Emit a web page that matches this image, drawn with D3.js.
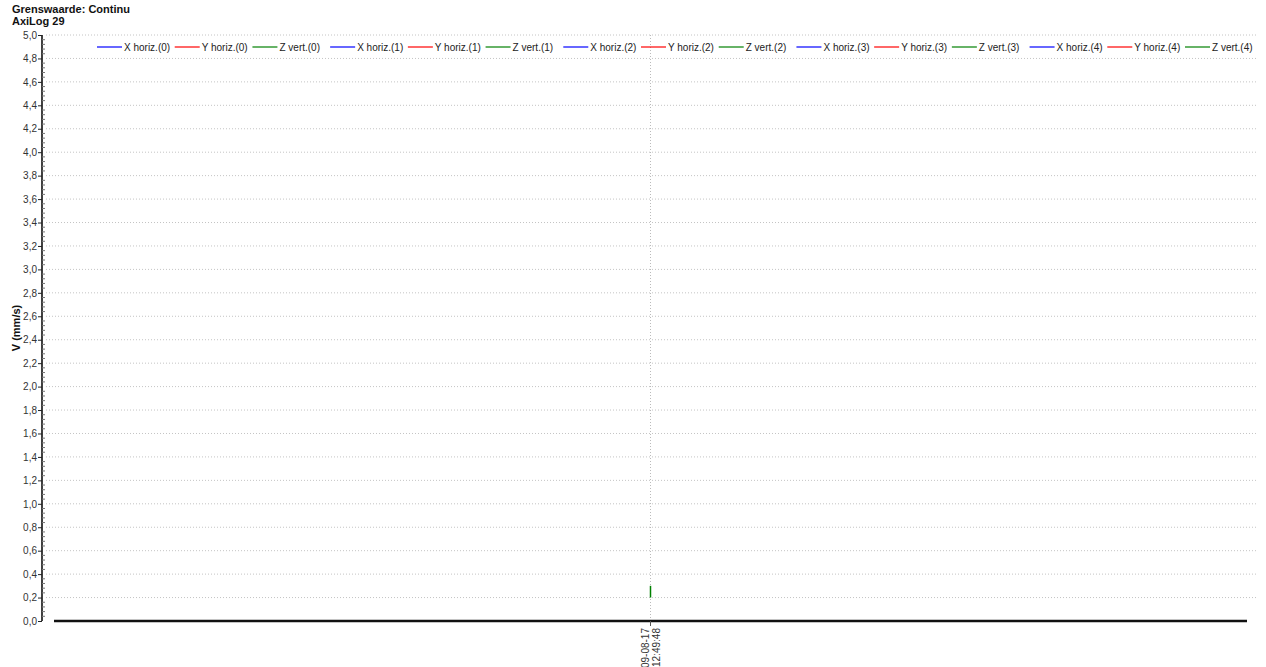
<!DOCTYPE html>
<html>
<head>
<meta charset="utf-8">
<script src="https://cdn.jsdelivr.net/npm/d3@7"></script>
<style>
  body { margin: 0; background: #fff; }
  svg { font-family: "Liberation Sans", Arial, sans-serif; }
</style>
</head>
<body>
<div class="chart"></div>
<script>
// data
var titleLines = ["Grenswaarde: Continu", "AxiLog 29"];
var seriesNames = ["X horiz.(0)", "Y horiz.(0)", "Z vert.(0)", "X horiz.(1)", "Y horiz.(1)", "Z vert.(1)",
  "X horiz.(2)", "Y horiz.(2)", "Z vert.(2)", "X horiz.(3)", "Y horiz.(3)", "Z vert.(3)",
  "X horiz.(4)", "Y horiz.(4)", "Z vert.(4)"];
var seriesColors = ["#0000ff", "#ff0000", "#008000"];
var eventTime = "2017-08-09T12:49:48";
var tickLabel = ["09-08-17", "12:49:48"];
// Z vert.(0) spike at the event time
var spikeTimes = [eventTime, eventTime];
var spikeValues = [0.2, 0.3];
var yMin = 0, yMax = 5;

var svgWidth = 1266, svgHeight = 667;
var margin = { top: 35, right: 8, bottom: 46, left: 42 };
var chartWidth = svgWidth - margin.left - margin.right;
var chartHeight = svgHeight - margin.top - margin.bottom;

var svg = d3.select(".chart").append("svg")
  .attr("width", svgWidth)
  .attr("height", svgHeight);

// titles
svg.selectAll(".title").data(titleLines).enter().append("text")
  .attr("x", 12)
  .attr("y", (d, i) => 13 + i * 12)
  .attr("font-size", "11px")
  .attr("font-weight", "bold")
  .attr("fill", "#111")
  .text(d => d);

var chartGroup = svg.append("g")
  .attr("transform", `translate(${margin.left}, ${margin.top})`);

var parse = d3.timeParse("%Y-%m-%dT%H:%M:%S");
var t0 = parse(eventTime);
var xScale = d3.scaleTime()
  .domain([d3.timeSecond.offset(t0, -60), d3.timeSecond.offset(t0, 60)])
  .range([12, 1205]);

var yScale = d3.scaleLinear()
  .domain([yMin, yMax])
  .range([chartHeight, 0]);

var fmt = d => d3.format(".1f")(d).replace(".", ",");
var majorTicks = d3.range(yMin, yMax + 0.001, 0.2);
var minorTicks = d3.range(yMin, yMax + 0.001, 0.04);

// gridlines
chartGroup.append("g").selectAll("line")
  .data(majorTicks.slice(1)).enter().append("line")
  .attr("x1", 4).attr("x2", 1216)
  .attr("y1", d => yScale(d)).attr("y2", d => yScale(d))
  .attr("stroke", "#c4c4c4")
  .attr("stroke-dasharray", "1,2");

chartGroup.append("line")
  .attr("x1", xScale(t0)).attr("x2", xScale(t0))
  .attr("y1", 0).attr("y2", chartHeight + 5)
  .attr("stroke", "#bbbbbb")
  .attr("stroke-dasharray", "1,2");

// y axis
var leftAxis = d3.axisLeft(yScale).tickValues(majorTicks).tickFormat(fmt).tickSize(4).tickPadding(1);
var yAxisG = chartGroup.append("g").call(leftAxis);
yAxisG.select(".domain").attr("stroke", "#000").attr("stroke-width", 1.5).attr("d", `M0,0V${chartHeight}`);
yAxisG.selectAll("text").attr("font-size", "10px").attr("fill", "#333").attr("font-family", "Liberation Sans, Arial");
yAxisG.selectAll(".tick line").attr("stroke", "#222");

chartGroup.append("g").selectAll("line")
  .data(minorTicks.filter((d, i) => i % 5 !== 0)).enter().append("line")
  .attr("x1", 0).attr("x2", 3)
  .attr("y1", d => yScale(d)).attr("y2", d => yScale(d))
  .attr("stroke", "#777");

// y label
chartGroup.append("text")
  .attr("transform", "rotate(-90)")
  .attr("x", -(yScale(2.5)) )
  .attr("y", -22)
  .attr("text-anchor", "middle")
  .attr("font-size", "11px")
  .attr("font-weight", "bold")
  .attr("fill", "#111")
  .text("V (mm/s)");

// x axis baseline
var xr = xScale.range();
chartGroup.append("line")
  .attr("x1", xr[0]).attr("x2", xr[1])
  .attr("y1", yScale(0)).attr("y2", yScale(0))
  .attr("stroke", "#111")
  .attr("stroke-width", 2.5);

chartGroup.append("line")
  .attr("x1", xScale(t0)).attr("x2", xScale(t0))
  .attr("y1", yScale(0)).attr("y2", yScale(0) + 5)
  .attr("stroke", "#555");

var xLab = chartGroup.append("text")
  .attr("transform", `translate(${xScale(t0)}, ${yScale(0) + 7}) rotate(-90)`)
  .attr("text-anchor", "end")
  .attr("font-size", "10px")
  .attr("fill", "#333");
xLab.selectAll("tspan").data(tickLabel).enter().append("tspan")
  .attr("x", 0)
  .attr("y", (d, i) => -2 + i * 11)
  .text(d => d);

// spike
var spike = spikeTimes.map((t, i) => ({ t: parse(t), v: spikeValues[i] }));
chartGroup.append("path")
  .datum(spike)
  .attr("fill", "none")
  .attr("stroke", seriesColors[2])
  .attr("stroke-width", 1.5)
  .attr("d", d3.line().x(d => xScale(d.t)).y(d => yScale(d.v)));

// legend
var legendScale = d3.scalePoint().domain(seriesNames).range([97, 1185]);
var legend = svg.append("g").selectAll("g")
  .data(seriesNames).enter().append("g")
  .attr("transform", d => `translate(${legendScale(d)}, 47)`);
legend.append("line")
  .attr("x1", 0).attr("x2", 25)
  .attr("stroke", (d, i) => seriesColors[i % 3])
  .attr("stroke-width", 1.2);
legend.append("text")
  .attr("x", 27).attr("y", 4)
  .attr("font-size", "10px")
  .attr("fill", "#222")
  .text(d => d);
</script>
</body>
</html>
